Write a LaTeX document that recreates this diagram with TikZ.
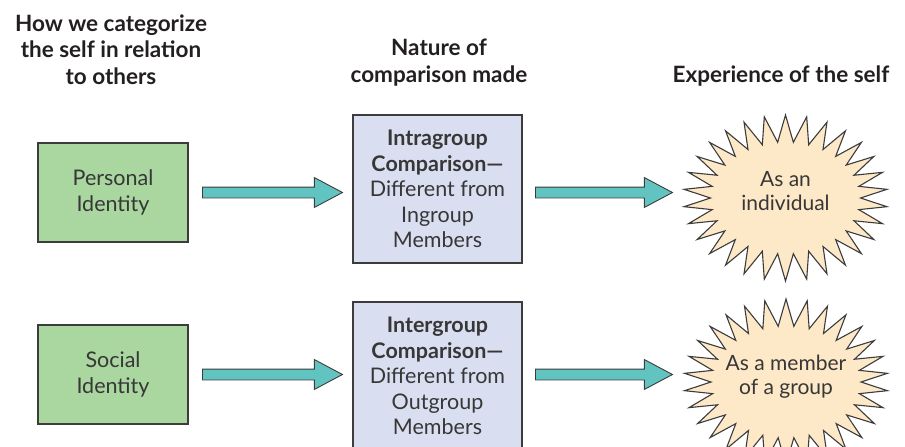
\documentclass[tikz,border=0pt]{standalone}
\usepackage{fontspec}
\setmainfont{Lato}
\usetikzlibrary{shapes.arrows,calc}
\definecolor{boxgreen}{RGB}{170,214,160}
\definecolor{boxblue}{RGB}{217,223,240}
\definecolor{starfill}{RGB}{253,232,200}
\definecolor{arrowteal}{RGB}{98,196,192}
\definecolor{bordergray}{RGB}{60,60,60}
\definecolor{textgray}{RGB}{55,55,55}
\definecolor{headblack}{RGB}{35,31,32}
\begin{document}
\begin{tikzpicture}[x=1pt,y=-1pt,
  header/.style={align=center, inner sep=0pt, text=headblack, font=\fontsize{22.5}{26.5}\selectfont\bfseries},
  box/.style={draw=bordergray, line width=1.2pt, inner sep=0pt, align=center, text=textgray, font=\fontsize{21.5}{25.5}\selectfont},
  greenbox/.style={box, fill=boxgreen, minimum width=150pt, minimum height=99pt},
  bluebox/.style={box, fill=boxblue, minimum width=169pt, minimum height=148pt},
  startext/.style={align=center, inner sep=0pt, text=textgray, font=\fontsize{21}{24}\selectfont},
  starstyle/.style={draw=bordergray, line width=1.1pt, fill=starfill, line join=miter},
  blockarrow/.style={single arrow, draw=bordergray, fill=arrowteal, line width=0.9pt,
    single arrow head extend=9.5pt, single arrow tip angle=56,
    inner xsep=0pt, inner ysep=5pt, anchor=tail}
]
\useasboundingbox (0,0) rectangle (905,447);
% headers
\node[header] (h1) at (111,49.3) {How we categorize\\the self in relation\\to others};
\node[header] (h2) at (439,62.5) {Nature of\\comparison made};
\node[header] (h3) at (781,76) {Experience of the self};
% left boxes
\node[greenbox] (g1) at (113,192.5) {Personal\\Identity};
\node[greenbox] (g2) at (113,374.5) {Social\\Identity};
% middle boxes
\node[bluebox] (b1) at (437.5,189) {\textbf{Intragroup}\\\textbf{Comparison—}\\Different from\\Ingroup\\Members};
\node[bluebox] (b2) at (437.5,376) {\textbf{Intergroup}\\\textbf{Comparison—}\\Different from\\Outgroup\\Members};
% starbursts
\coordinate (s1) at (785.5,198);
\coordinate (s2) at (786,382);
\draw[starstyle] plot[samples at={0,6,...,354}] ({785.5+(75+27*mod(round(\x/6),2))*cos(\x)},{198+(56+27*mod(round(\x/6),2))*sin(\x)}) -- cycle;
\draw[starstyle] plot[samples at={0,6,...,354}] ({786+(75+27*mod(round(\x/6),2))*cos(\x)},{382+(56+27*mod(round(\x/6),2))*sin(\x)}) -- cycle;
\node[startext] (t1) at (785.5,191) {As an\\individual};
\node[startext] (t2) at (786,377) {As a member\\of a group};
% arrows
\node[blockarrow, minimum height=140pt] (a1) at (202,0 |- g1) {};
\node[blockarrow, minimum height=140pt] (a3) at (202,0 |- g2) {};
\node[blockarrow, minimum height=137pt] (a2) at (535,0 |- g1) {};
\node[blockarrow, minimum height=137pt] (a4) at (535,0 |- g2) {};
\end{tikzpicture}
\end{document}
